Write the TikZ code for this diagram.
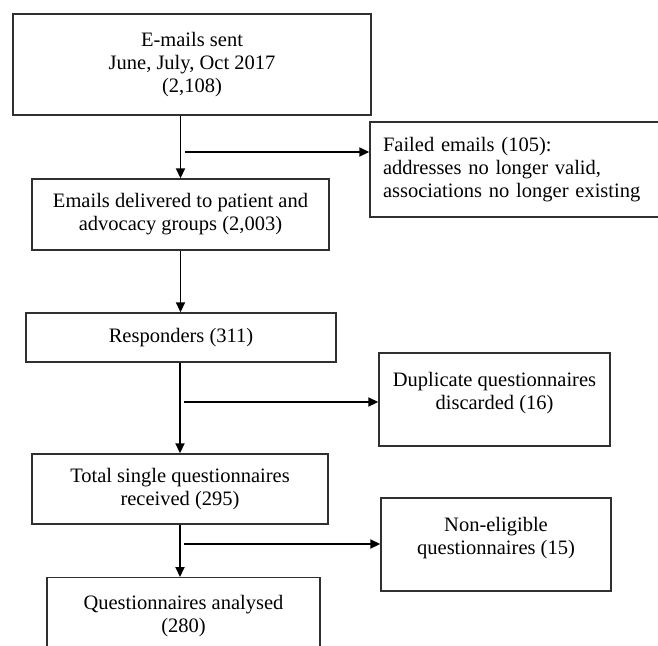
\documentclass[tikz,border=0pt]{standalone}
\usepackage{fontspec}
\setmainfont{Liberation Serif}
\usetikzlibrary{arrows.meta,calc}
\definecolor{boxline}{HTML}{303030}
\tikzset{
  flowbox/.style={
    draw=boxline,
    line width=1.4pt,
    fill=white,
    inner sep=0pt,
    align=center,
    font=\fontsize{20.5}{23}\selectfont
  },
  sidebox/.style={
    flowbox,
    align=left,
    inner xsep=13pt,
    text width=284pt,
    minimum height=95pt
  },
  arrow/.style={
    -{Triangle[length=10pt,width=9pt]},
    line width=1.8pt
  }
}

\begin{document}
\begin{tikzpicture}[x=1pt,y=-1pt]
\useasboundingbox (0,0) rectangle (658,645);
\clip (0,0) rectangle (658,645);
% main column
\node[flowbox, minimum width=358pt, minimum height=101pt] (sent) at (192,64.5)
  {E-mails sent\\June, July, Oct 2017\\(2,108)};
\node[flowbox, minimum width=297pt, minimum height=71pt] (delivered) at (180.5,214.5)
  {Emails delivered to patient and\\advocacy groups (2,003)};
\node[flowbox, minimum width=310pt, minimum height=49pt] (responders) at (181,337.5)
  {Responders (311)};
\node[flowbox, minimum width=296pt, minimum height=70pt] (total) at (180,489)
  {Total single questionnaires\\received (295)};
\node[flowbox, minimum width=273pt, minimum height=76pt, anchor=north] (analysed) at (183.5,577)
  {Questionnaires analysed\\(280)};
% excluded
\node[sidebox] (failed) at (525,169.5)
  {Failed emails (105):\\addresses no longer valid,\\associations no longer existing};
\node[flowbox, minimum width=231pt, minimum height=93pt] (duplicate) at (494.5,399.5)
  {Duplicate questionnaires\\discarded (16)\\[-6pt]\mbox{}};
\node[flowbox, minimum width=230pt, minimum height=93pt] (noneligible) at (496,544.5)
  {Non-eligible\\questionnaires (15)\\[-6pt]\mbox{}};
% forks
\coordinate (fork1) at (185,152);
\coordinate (fork2) at (184,402);
\coordinate (fork3) at (184,544);
% arrows
\draw[arrow] (sent.south -| delivered.north) -- (delivered.north);
\draw[arrow] (fork1) -- (fork1 -| failed.west);
\draw[arrow] (delivered.south) -- (delivered.south |- responders.north);
\draw[arrow] (responders.south -| total.north) -- (total.north);
\draw[arrow] (fork2) -- (fork2 -| duplicate.west);
\draw[arrow] (total.south) -- (total.south |- analysed.north);
\draw[arrow] (fork3) -- (fork3 -| noneligible.west);
\end{tikzpicture}
\end{document}
